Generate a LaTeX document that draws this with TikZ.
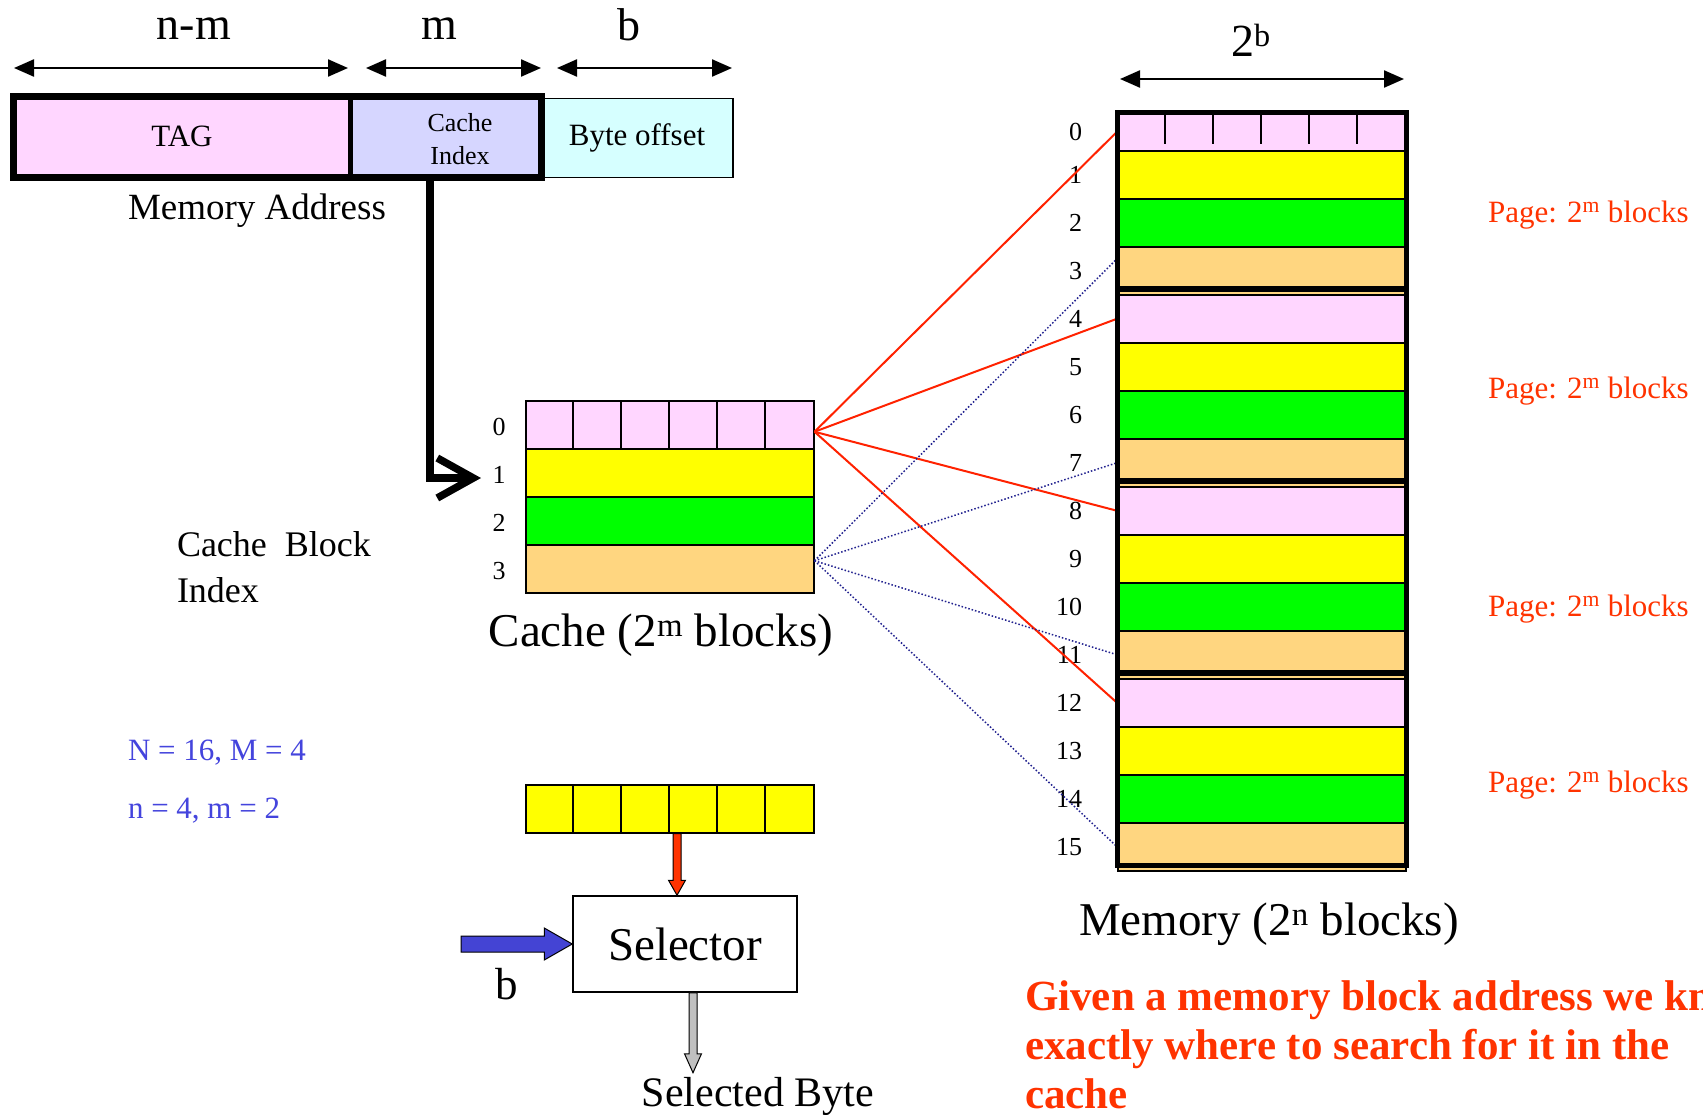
\documentclass[tikz,border=0pt]{standalone}
\usepackage{fontspec}
\setmainfont{Liberation Serif}
\usetikzlibrary{arrows.meta,calc}

\definecolor{tagpink}{HTML}{FFD6FF}
\definecolor{idxlav}{HTML}{D6D6FF}
\definecolor{offcyan}{HTML}{D6FFFF}
\definecolor{blkyellow}{HTML}{FFFF00}
\definecolor{blkgreen}{HTML}{00FF00}
\definecolor{blkorange}{HTML}{FFD680}
\definecolor{notered}{HTML}{FF3300}
\definecolor{linkred}{HTML}{FF2200}
\definecolor{linknavy}{HTML}{22228F}
\definecolor{parblue}{HTML}{4444DD}
\definecolor{inblue}{HTML}{4444D4}
\definecolor{outgray}{HTML}{C0C0C0}
\colorlet{rc0}{tagpink}
\colorlet{rc1}{blkyellow}
\colorlet{rc2}{blkgreen}
\colorlet{rc3}{blkorange}

% outlined block arrows: start, tip, half shaft, half head, head length, fill
\newcommand\downblock[6]{%
  \filldraw[fill=#6, draw=black, line width=1pt]
    ($(#1)+(-#3,0)$) -- ($(#2)+(-#3,-#5)$) -- ($(#2)+(-#4,-#5)$) -- (#2)
    -- ($(#2)+(#4,-#5)$) -- ($(#2)+(#3,-#5)$) -- ($(#1)+(#3,0)$) -- cycle;}
\newcommand\rightblock[6]{%
  \filldraw[fill=#6, draw=black, line width=1pt]
    ($(#1)+(0,-#3)$) -- ($(#2)+(-#5,-#3)$) -- ($(#2)+(-#5,-#4)$) -- (#2)
    -- ($(#2)+(-#5,#4)$) -- ($(#2)+(-#5,#3)$) -- ($(#1)+(0,#3)$) -- cycle;}

\begin{document}
\begin{tikzpicture}[x=1pt,y=-1pt,
  fsz/.style={font=\fontsize{#1}{#1}\selectfont},
  lbl/.style={inner sep=0pt, outer sep=0pt},
  field/.style={draw=black, line width=1.5pt, inner sep=0pt, minimum height=80pt},
  crow/.style={draw=black, line width=1.5pt, inner sep=0pt, minimum width=288pt,
               minimum height=48pt, anchor=north west},
  dimarrow/.style={line width=2.3pt,
    {Triangle[length=20pt,width=17pt]}-{Triangle[length=20pt,width=17pt]}},
  pageframe/.style={line width=5pt},
  hotlink/.style={linkred, line width=2pt},
  coldlink/.style={linknavy, line width=1.5pt, dotted},
]
\fill[white] (0,0) rectangle (1703,1114);
\useasboundingbox (0,0) rectangle (1703,1114);

% ---- address fields ----
\node[field, fill=tagpink, minimum width=336pt, fsz=31] (tag) at (182,136.75) {TAG};
\node[field, fill=idxlav, minimum width=191pt] (idx) at (445.5,136.75) {};
\node[lbl, fsz=26, anchor=base] (idx1) at (460,131) {Cache};
\node[lbl, fsz=26, anchor=base] (idx2) at (460,164) {Index};
\node[field, fill=offcyan, minimum width=192pt, minimum height=79pt, fsz=31] (off) at (637,138) {Byte offset};
\draw[line width=7pt] (tag.north west) rectangle (idx.south east);
\draw[line width=5pt] (tag.north east) -- (tag.south east);

\node[lbl, fsz=37, anchor=base west] (addrlbl) at (128,219) {Memory Address};

% ---- field widths ----
\coordinate (nmL) at (14,68);   \coordinate (nmR) at (348,68);
\coordinate (mL) at (366,68);   \coordinate (mR) at (541,68);
\coordinate (bL) at (557,68);   \coordinate (bR) at (732,68);
\draw[dimarrow] (nmL) -- (nmR);
\draw[dimarrow] (mL) -- (mR);
\draw[dimarrow] (bL) -- (bR);
\node[lbl, fsz=46, anchor=base] (wnm) at (194,39) {n-m};
\node[lbl, fsz=46, anchor=base] (wm) at (439,39) {m};
\node[lbl, fsz=46, anchor=base] (wb) at (629,40) {b};

% ---- cache ----
\foreach \i in {0,...,3}
  \node[crow, fill=rc\i] (c\i) at (525,{400+48*\i}) {};
\foreach \k in {1,...,5}
  \draw[line width=1.5pt] ($(c0.north west)+(48*\k,0)$) -- ($(c0.south west)+(48*\k,0)$);
\foreach \i in {0,...,3}
  \node[lbl, fsz=26] (cl\i) at ($(c\i.west)+(-26,2)$) {\i};
\node[lbl, fsz=47, anchor=base] (cachelbl) at (661,646) {Cache (2\textsuperscript{m} blocks)};

% index selects the cache line
\coordinate (drop) at (430,177);
\coordinate (hit) at (481,478);
\draw[line width=7.5pt, -{Straight Barb[length=36pt,width=40pt]}] (drop) |- (hit);

\node[lbl, fsz=36, anchor=base west] (cbi1) at (177,556) {Cache\ \ Block};
\node[lbl, fsz=36, anchor=base west] (cbi2) at (177,602) {Index};

\node[lbl, fsz=31, text=parblue, anchor=base west] (par1) at (128,760) {N = 16, M = 4};
\node[lbl, fsz=31, text=parblue, anchor=base west] (par2) at (128,818) {n = 4, m = 2};

% ---- memory ----
\node[crow, fill=rc0, minimum height=38pt] (m0) at (1117,112) {};
\foreach \i in {1,...,15}{
  \pgfmathtruncatemacro\k{mod(\i,4)}
  \node[crow, fill=rc\k] (m\i) at (1117,{102+48*\i}) {};
}
\foreach \k in {1,...,5}
  \draw[line width=1.5pt] ($(m0.north west)+(48*\k,0)$) -- ++(0,32);
\foreach \i in {0,...,15}
  \node[lbl, fsz=26, anchor=east] (ml\i) at ($(m\i.west)+(-35,0)$) {\i};

% cache lines to the memory blocks that map onto them
\coordinate (hotsrc) at ($(c0.east)+(0,7)$);
\coordinate (coldsrc) at ($(c3.east)+(0,-8)$);
\foreach \j in {0,4,8,12}
  \draw[hotlink] (hotsrc) -- (m\j.west);
\draw[coldlink] (coldsrc) -- ($(m3.west)+(0,-12)$);
\foreach \j in {7,11,15}
  \draw[coldlink] (coldsrc) -- (m\j.west);

% page frames
\draw[pageframe] (m0.north west) rectangle ($(m3.south east)+(0,-6)$);
\draw[pageframe] ($(m4.north west)+(0,-6)$) rectangle ($(m7.south east)+(0,-6)$);
\draw[pageframe] ($(m8.north west)+(0,-6)$) rectangle ($(m11.south east)+(0,-6)$);
\draw[pageframe] ($(m12.north west)+(0,-6)$) rectangle ($(m15.south east)+(0,-6)$);

\coordinate (wL) at (1120,79);  \coordinate (wR) at (1404,79);
\draw[dimarrow] (wL) -- (wR);
\node[lbl, fsz=46, anchor=base] (w2b) at (1251,56) {2\textsuperscript{b}};

\node[lbl, fsz=31, text=notered, anchor=base west] (pg0) at (1488,222) {Page: 2\textsuperscript{m} blocks};
\node[lbl, fsz=31, text=notered, anchor=base west] (pg1) at (1488,398) {Page: 2\textsuperscript{m} blocks};
\node[lbl, fsz=31, text=notered, anchor=base west] (pg2) at (1488,616) {Page: 2\textsuperscript{m} blocks};
\node[lbl, fsz=31, text=notered, anchor=base west] (pg3) at (1488,792) {Page: 2\textsuperscript{m} blocks};

\node[lbl, fsz=47, anchor=base] (memlbl) at (1269,935) {Memory (2\textsuperscript{n} blocks)};

% ---- byte selection ----
\node[crow, fill=blkyellow] (word) at (525,784) {};
\foreach \k in {1,...,5}
  \draw[line width=1.5pt] ($(word.north west)+(48*\k,0)$) -- ($(word.south west)+(48*\k,0)$);

\node[draw=black, line width=1.5pt, inner sep=0pt, minimum width=224pt,
      minimum height=96pt, fsz=47] (sel) at (685,944) {Selector};

\path (sel.north) ++(-8,0) coordinate (rend);
\path (rend |- word.south) coordinate (rstart);
\downblock{rstart}{rend}{4}{8.5}{15}{notered}

\coordinate (bsrc) at (461,944);
\rightblock{bsrc}{sel.west}{8}{16}{28}{inblue}
\node[lbl, fsz=45, anchor=base] (blbl) at (507,999) {b};

\path (sel.south) ++(8,0) coordinate (gstart);
\path (gstart) ++(0,80) coordinate (gend);
\downblock{gstart}{gend}{4}{8.5}{19}{outgray}
\node[lbl, fsz=42, anchor=base] (selbyte) at (758,1106) {Selected Byte};

% ---- note ----
\node[lbl, font=\bfseries\fontsize{43}{43}\selectfont, text=notered, anchor=base west]
  (note1) at (1025,1010) {Given a memory block address we know};
\node[lbl, font=\bfseries\fontsize{43}{43}\selectfont, text=notered, anchor=base west]
  (note2) at (1025,1059) {exactly where to search for it in the};
\node[lbl, font=\bfseries\fontsize{43}{43}\selectfont, text=notered, anchor=base west]
  (note3) at (1025,1108) {cache};
\end{tikzpicture}
\end{document}
